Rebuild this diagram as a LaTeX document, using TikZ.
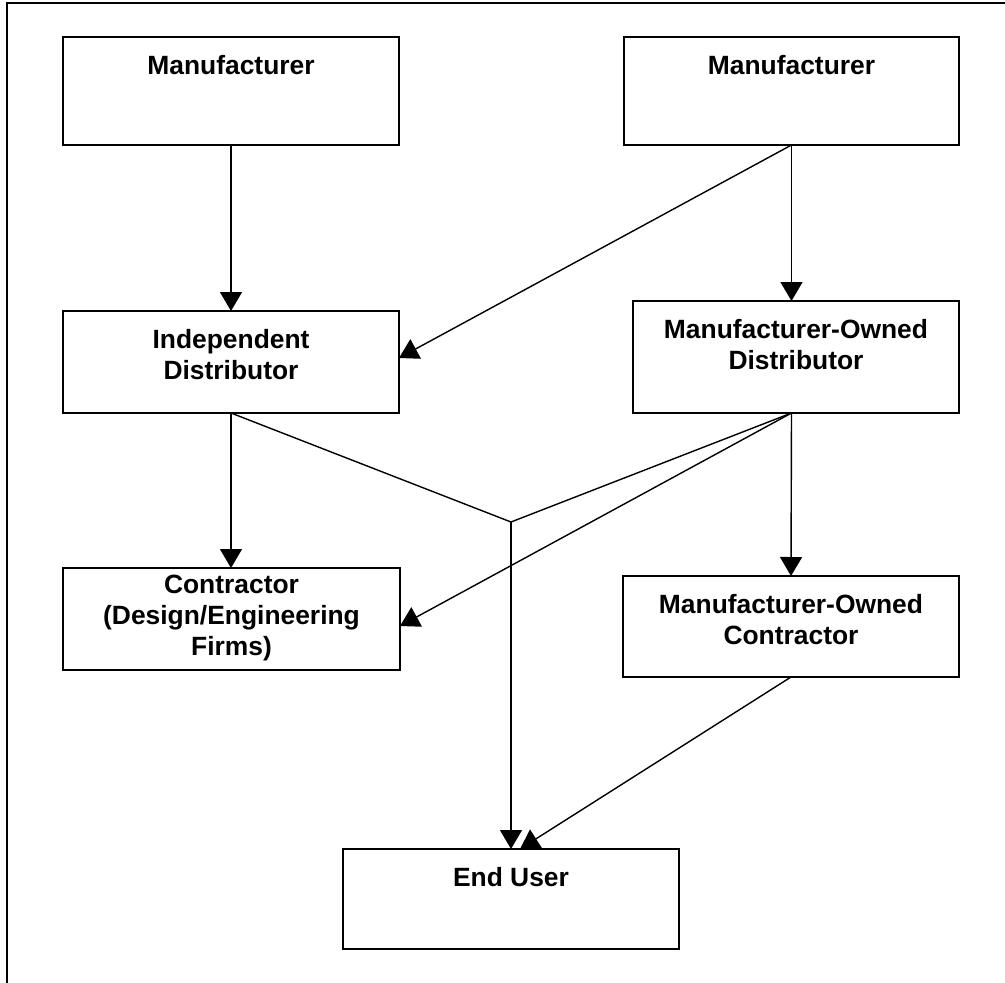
\documentclass[tikz,border=0pt]{standalone}
\usepackage{fontspec}
\setmainfont{Liberation Sans}
\usetikzlibrary{arrows.meta}
\begin{document}
\begin{tikzpicture}[x=1pt,y=-1pt,
 box/.style={draw, line width=1.6pt, rectangle, inner sep=0pt, outer sep=0pt, anchor=north west},
 lbl/.style={anchor=north, inner sep=0pt, align=center, font=\fontsize{26.4}{31}\selectfont\bfseries},
 conn/.style={line width=1.4pt},
 arr/.style={conn, -{Triangle[length=19pt,width=22pt]}}]
\useasboundingbox (0,0) rectangle (1005,983);
\draw[line width=1.6pt] (1005,3) -- (7,3) -- (7,983);
% boxes
\node[box, minimum width=336pt, minimum height=108pt] (m1) at (63,37) {};
\node[box, minimum width=335pt, minimum height=108pt] (m2) at (624,37) {};
\node[box, minimum width=336pt, minimum height=102pt] (id) at (63,311) {};
\node[box, minimum width=326pt, minimum height=112pt] (mod) at (633,301) {};
\node[box, minimum width=337pt, minimum height=102pt] (con) at (63,568) {};
\node[box, minimum width=336pt, minimum height=101pt] (moc) at (623,576) {};
\node[box, minimum width=336pt, minimum height=100pt] (eu) at (343,849) {};
% labels
\node[lbl] (m1t) at ([yshift=-18pt]m1.north) {Manufacturer};
\node[lbl] (m2t) at ([yshift=-18pt]m2.north) {Manufacturer};
\node[lbl] (idt) at ([yshift=-18pt]id.north) {Independent\\Distributor};
\node[lbl] (modt) at ([yshift=-18pt]mod.north) {Manufacturer-Owned\\Distributor};
\node[lbl] (cont) at ([yshift=-7pt]con.north) {Contractor\\(Design/Engineering\\Firms)};
\node[lbl] (moct) at ([yshift=-18pt]moc.north) {Manufacturer-Owned\\Contractor};
\node[lbl] (eut) at ([yshift=-18pt]eu.north) {End User};
% connectors
\coordinate (modout) at (m2.south |- mod.south);
\coordinate (j) at (511,522);
\draw[arr] (m1.south) -- (id.north);
\draw[arr] (m2.south) -- ([yshift=4pt]id.east);
\draw[arr] (m2.south) -- (m2.south |- mod.north);
\draw[arr] (id.south) -- (id.south |- con.north);
\draw[conn] (id.south) -- (j);
\draw[conn] (modout) -- (j);
\draw[arr] (j) -- (j |- eu.north);
\draw[arr] (modout) -- ([yshift=-7pt]con.east);
\draw[arr] (modout) -- (moc.north);
\draw[arr] (moc.south) -- ([xshift=9pt]eu.north);
\end{tikzpicture}
\end{document}
